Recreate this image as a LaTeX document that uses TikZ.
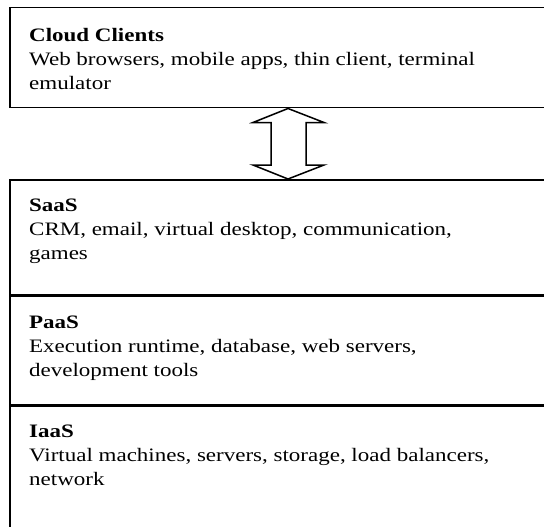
\documentclass[tikz,border=0pt]{standalone}
\usepackage{fontspec}
\setmainfont[FakeStretch=1.21]{Liberation Serif}
\usetikzlibrary{positioning,calc}
\tikzset{
    layer/.style={
        draw, line width=1.5pt, rectangle,
        anchor=north west, inner sep=0pt,
        minimum width=552pt, minimum height=#1
    },
    caption/.style={
        inner sep=0pt, align=left,
        font=\fontsize{19}{24}\selectfont
    },
    dblarrow/.style={draw, line width=1.5pt, fill=white}
}

\begin{document}
\begin{tikzpicture}[x=1pt, y=-1pt]

\useasboundingbox (0,0) rectangle (544,527);
\clip (0,0) rectangle (544,527);

% ===============================
%          client layer
% ===============================

\node[layer=100pt] (clients) at (9,7) {};
\node[caption, below right=21pt and 20pt of clients.north west] (clientstext)
    {\textbf{Cloud Clients}\\Web browsers, mobile apps, thin client, terminal\\emulator};


% ===============================
%          service stack
% ===============================

\node[layer=115pt] (saas) at (9,179) {};
\node[layer=108pt] (paas) at (saas.south west) {};
\node[layer=160pt] (iaas) at (paas.south west) {};

\node[caption, below right=20pt and 20pt of saas.north west] (saastext)
    {\textbf{SaaS}\\CRM, email, virtual desktop, communication,\\games};
\node[caption, below right=20pt and 20pt of paas.north west] (paastext)
    {\textbf{PaaS}\\Execution runtime, database, web servers,\\development tools};
\node[caption, below right=20pt and 20pt of iaas.north west] (iaastext)
    {\textbf{IaaS}\\Virtual machines, servers, storage, load balancers,\\network};


% ===============================
%          double arrow
% ===============================

\coordinate (uptip) at ([xshift=279pt]clients.south west);
\coordinate (downtip) at ([xshift=279pt]saas.north west);

\path[dblarrow] (uptip) -- ++(36,14) -- ++(-18,0) -- ($(downtip)+(18,-14)$)
    -- ++(18,0) -- (downtip) -- ++(-35,-14) -- ++(18,0)
    -- ($(uptip)+(-17,14)$) -- ++(-18,0) -- cycle;

\end{tikzpicture}
\end{document}
